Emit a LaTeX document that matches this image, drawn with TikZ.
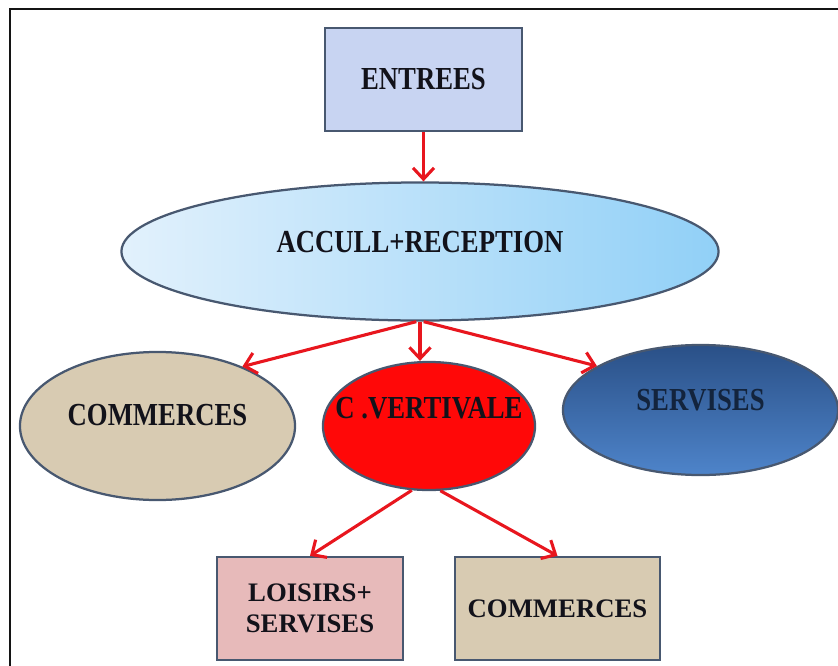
\documentclass[tikz,border=0pt]{standalone}
\usepackage{graphicx}
\usepackage{fontspec}
\setmainfont{Liberation Serif}
\usetikzlibrary{arrows.meta,shapes.geometric}
\definecolor{cFrame}{RGB}{20,20,20}
\definecolor{cEdge}{RGB}{72,88,112}
\definecolor{cArrow}{RGB}{232,22,30}
\definecolor{cEntree}{RGB}{200,212,242}
\definecolor{cAccLeft}{RGB}{226,241,252}
\definecolor{cAccRight}{RGB}{145,208,247}
\definecolor{cBeige}{RGB}{216,203,178}
\definecolor{cVert}{RGB}{255,8,8}
\definecolor{cServTop}{RGB}{42,80,135}
\definecolor{cServBot}{RGB}{78,132,202}
\definecolor{cLoisir}{RGB}{231,186,186}
\definecolor{cText}{RGB}{18,18,26}
\newcommand{\tall}[1]{\scalebox{1}[1.2]{#1}}

\begin{document}
\begin{tikzpicture}[x=0.025cm,y=-0.025cm,
			box/.style={
				rectangle,
				draw=cEdge,
				line width=1.6pt,
				inner sep=0pt,
				align=center,
				text=cText,
				font=\fontsize{19}{22}\selectfont\bfseries
			},
			oval/.style={
				ellipse,
				draw=cEdge,
				line width=1.6pt,
				inner sep=0pt
			},
			txt/.style={text=cText,font=\fontsize{19}{22}\selectfont\bfseries},
			link/.style={draw=cArrow,line width=2.2pt,-{Straight Barb[length=8pt,width=15pt]}}
			]
			\useasboundingbox (0,0) rectangle (838,666);
			\draw[cFrame,line width=2pt] (10,666) -- (10,9) -- (838,9);
			% top
			\node[box,fill=cEntree,minimum width=4.925cm,minimum height=2.575cm] (entrees) at (423.5,79.5) {\tall{ENTREES}};
			\node[oval,left color=cAccLeft,right color=cAccRight,minimum width=14.925cm,minimum height=3.45cm,
				label={[txt,yshift=7pt]center:\tall{ACCULL+RECEPTION}}] (accueil) at (420,251.5) {};
			% middle row
			\node[oval,fill=cBeige,minimum width=6.875cm,minimum height=3.7cm,
				label={[txt,yshift=8pt]center:\tall{COMMERCES}}] (commerces) at (157.5,426) {};
			\node[oval,fill=cVert,minimum width=5.3cm,minimum height=3.2cm,
				label={[txt,yshift=13pt]center:\tall{C .VERTIVALE}}] (vertivale) at (429,426) {};
			\node[oval,top color=cServTop,bottom color=cServBot,minimum width=6.875cm,minimum height=3.25cm,
				label={[txt,text=cServTop!45!black,yshift=7pt]center:\tall{SERVISES}}] (servises) at (700.5,410) {};
			% bottom row
			\node[box,fill=cLoisir,minimum width=4.65cm,minimum height=2.575cm] (loisirs) at (310,608.5) {LOISIRS+\\SERVISES};
			\node[box,fill=cBeige,minimum width=5.125cm,minimum height=2.575cm] (commerces2) at (557.5,608.5) {COMMERCES};
			% arrows
			\draw[link] (entrees.south) -- (entrees.south |- accueil.north);
			\draw[link] (accueil.267) -- (commerces.35);
			\draw[link] (accueil.south) -- (accueil.south |- vertivale.north);
			\draw[link] (accueil.273) -- (servises.157);
			\draw[link] (vertivale.255) -- (loisirs.north);
			\draw[link] (vertivale.280) -- (commerces2.north);
		\end{tikzpicture}
\end{document}
